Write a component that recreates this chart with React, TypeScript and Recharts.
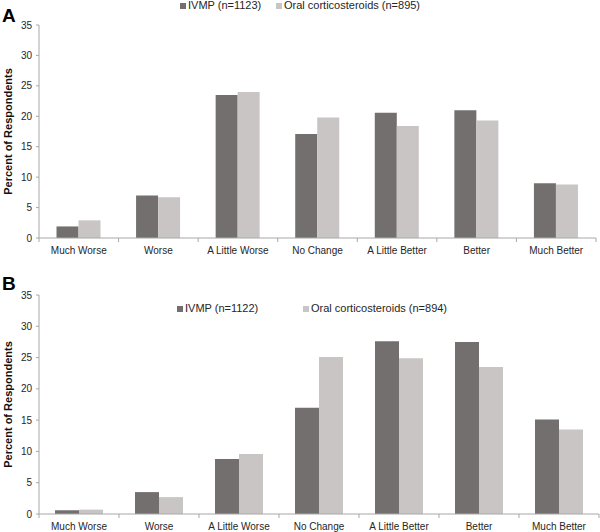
// Two-panel grouped bar chart: patient-reported change, IVMP vs oral corticosteroids
import { BarChart, Bar, XAxis, YAxis } from "recharts";

const categories = ["Much Worse", "Worse", "A Little Worse", "No Change", "A Little Better", "Better", "Much Better"];

const ivmpA = [1.9, 7.0, 23.5, 17.1, 20.6, 21.0, 9.0];
const oralA = [2.9, 6.7, 24.0, 19.8, 18.4, 19.3, 8.8];
const namesA = ["IVMP (n=1123)", "Oral corticosteroids (n=895)"];

const ivmpB = [0.6, 3.5, 8.8, 17.0, 27.6, 27.5, 15.1];
const oralB = [0.7, 2.7, 9.6, 25.1, 24.9, 23.5, 13.5];
const namesB = ["IVMP (n=1122)", "Oral corticosteroids (n=894)"];

const yTicks = [0, 5, 10, 15, 20, 25, 30, 35];

const W = 600;
const Y_W = 39;
const FONT = '"Liberation Sans", Arial, Helvetica, sans-serif';
const DARK = "#736f6e";
const LIGHT = "#c9c5c4";
const AXIS = "#a8a8a8";
const TEXT = "#262626";

const XTick = ({ x, payload, index, band, axisY, count }: any) => {
    const left = x - band / 2;
    return (
        <g>
            <line x1={left} x2={left} y1={axisY} y2={axisY + 4} stroke={AXIS} />
            {index === count - 1 && (
                <line x1={x + band / 2} x2={x + band / 2} y1={axisY} y2={axisY + 4} stroke={AXIS} />
            )}
            <text x={x} y={axisY + 12} textAnchor="middle" dominantBaseline="central" fontSize={10} fill={TEXT} fontFamily={FONT}>
                {payload.value}
            </text>
        </g>
    );
};

const renderYLabel = ({ viewBox }: any) => {
    const cx = 8;
    const cy = viewBox.y + viewBox.height / 2;
    return (
        <text
            x={cx}
            y={cy}
            transform={`rotate(-90, ${cx}, ${cy})`}
            textAnchor="middle"
            dominantBaseline="central"
            fontSize={11}
            fontWeight={700}
            fill="#111"
            fontFamily={FONT}
        >
            Percent of Respondents
        </text>
    );
};

function Panel({ letter, height, xAxisHeight, right, ivmp, oral, names, legendTop, legendX, gap }: any) {
    const data = categories.map((c, i) => ({ name: c, ivmp: ivmp[i], oral: oral[i] }));
    const band = (W - Y_W - right) / categories.length;
    const axisY = height - xAxisHeight;
    const colors = [DARK, LIGHT];

    return (
        <div style={{ position: "relative", width: W, height, fontFamily: FONT }}>
            <BarChart
                width={W}
                height={height}
                data={data}
                margin={{ top: 25, right, left: 0, bottom: 0 }}
                barGap={0}
                barCategoryGap={gap}
            >
                <XAxis
                    dataKey="name"
                    height={xAxisHeight}
                    stroke={AXIS}
                    tickLine={false}
                    interval={0}
                    tick={<XTick band={band} axisY={axisY} count={categories.length} />}
                />
                <YAxis
                    width={Y_W}
                    domain={[0, 35]}
                    ticks={yTicks}
                    interval={0}
                    stroke={AXIS}
                    tickSize={3}
                    tickMargin={4}
                    tick={{ fontSize: 10, fill: TEXT, fontFamily: FONT }}
                    label={{ value: "Percent of Respondents", content: renderYLabel }}
                />
                <Bar dataKey="ivmp" name={names[0]} fill={DARK} isAnimationActive={false} />
                <Bar dataKey="oral" name={names[1]} fill={LIGHT} isAnimationActive={false} />
            </BarChart>

            <div style={{ position: "absolute", left: 2, top: letter.top, fontSize: 19, lineHeight: "19px", fontWeight: 700, color: "#000" }}>
                {letter.text}
            </div>

            {names.map((n: string, i: number) => (
                <div
                    key={n}
                    style={{
                        position: "absolute",
                        left: legendX[i],
                        top: legendTop,
                        display: "flex",
                        alignItems: "center",
                        fontSize: 11,
                        lineHeight: "11px",
                        color: TEXT,
                        whiteSpace: "nowrap",
                    }}
                >
                    <span style={{ width: 6, height: 6, background: colors[i], marginRight: 2, display: "inline-block" }} />
                    {n}
                </div>
            ))}
        </div>
    );
}

export default function App() {
    return (
        <div style={{ position: "absolute", left: 0, top: 0, width: 600, height: 532, background: "#fff" }}>
            <Panel
                letter={{ text: "A", top: 5.6 }}
                height={265}
                xAxisHeight={27}
                right={4}
                ivmp={ivmpA}
                oral={oralA}
                names={namesA}
                legendTop={0}
                legendX={[180, 276]}
                gap="22%"
            />
            <div style={{ height: 5 }} />
            <Panel
                letter={{ text: "B", top: 3.9 }}
                height={262}
                xAxisHeight={18}
                right={1}
                ivmp={ivmpB}
                oral={oralB}
                names={namesB}
                legendTop={33.4}
                legendX={[177, 303]}
                gap="20%"
            />
        </div>
    );
}
